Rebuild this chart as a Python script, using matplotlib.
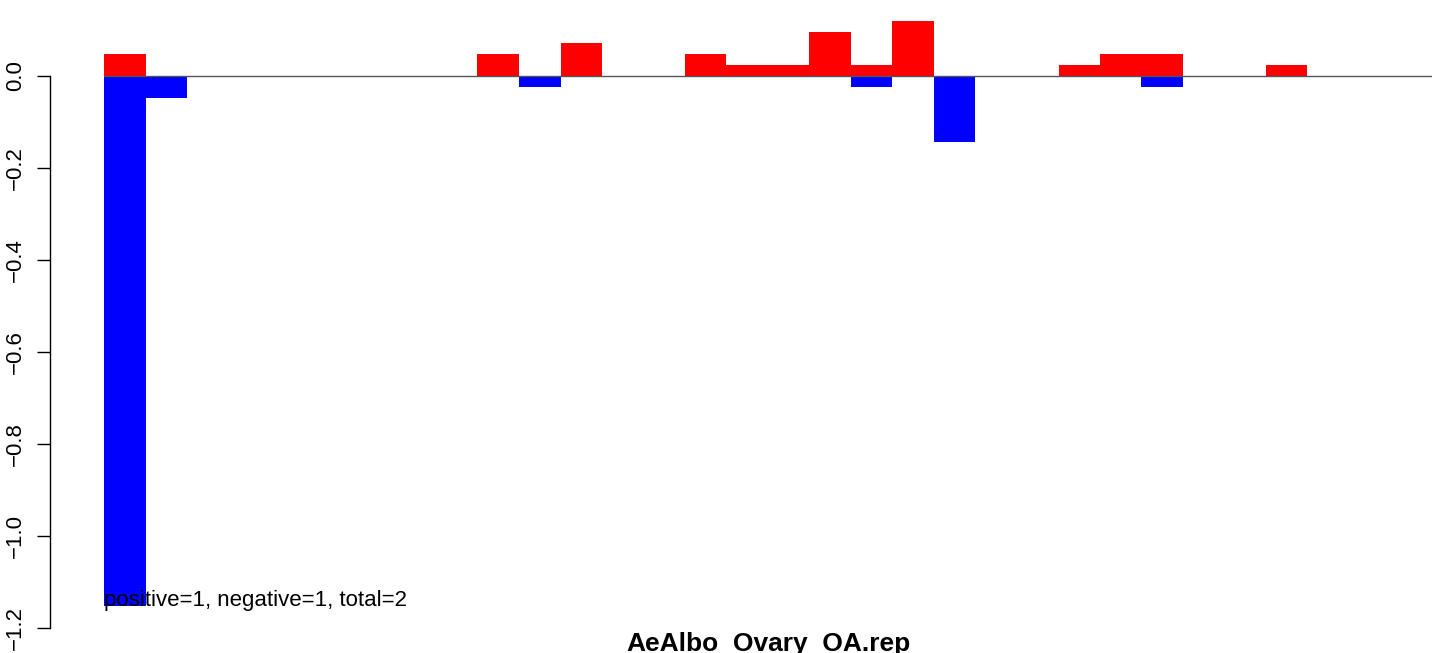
import numpy as np
import matplotlib.pyplot as plt

plt.rcParams['font.family'] = ['Liberation Sans', 'DejaVu Sans']

# bin-wise values (32 bins)
n_bins = 32
pos_bins = [0, 9, 11, 14, 15, 16, 17, 18, 19, 23, 24, 25, 28]
pos_vals = [0.048, 0.048, 0.072, 0.048, 0.024, 0.024, 0.096, 0.024, 0.12, 0.024, 0.048, 0.048, 0.024]
neg_bins = [0, 1, 10, 18, 20, 25]
neg_vals = [-1.152, -0.048, -0.024, -0.024, -0.144, -0.024]
yticks = [0.0, -0.2, -0.4, -0.6, -0.8, -1.0, -1.2]
title = 'AeAlbo_Ovary_OA.rep'
note = 'positive=1, negative=1, total=2'

W, H = 1441, 653
fig = plt.figure(figsize=(W / 100, H / 100), dpi=100)
# axes box in pixels: x 104..1432, full height
ax = fig.add_axes([104 / W, 0, (1432 - 104) / W, 1])

ax.bar(pos_bins, pos_vals, width=1, align='edge', color='red', linewidth=0)
ax.bar(neg_bins, neg_vals, width=1, align='edge', color='blue', linewidth=0)
ax.axhline(0, color='#555555', linewidth=1)

ax.set_xlim(0, n_bins)
ax.set_ylim(-(H - 76) / 460, 76 / 460)

for s in ['top', 'right', 'bottom']:
    ax.spines[s].set_visible(False)
ax.spines['left'].set_position(('outward', 54 * 0.72))
ax.spines['left'].set_bounds(-1.2, 0)
ax.spines['left'].set_linewidth(1.0)
ax.set_xticks([])
ax.set_yticks(yticks)
ax.set_yticklabels([('%.1f' % t).replace('-', '\u2212') for t in yticks],
                   rotation=90, va='center', fontsize=16)
ax.tick_params(axis='y', length=9.4, width=1, pad=8)

ax.text(0, min(neg_vals), note, ha='left', va='baseline', fontsize=16)
ax.text(n_bins / 2, -(651 - 76) / 460, title, ha='center', va='baseline',
        fontsize=19, fontweight='bold', clip_on=False)

fig.savefig('out.png', dpi=100)
